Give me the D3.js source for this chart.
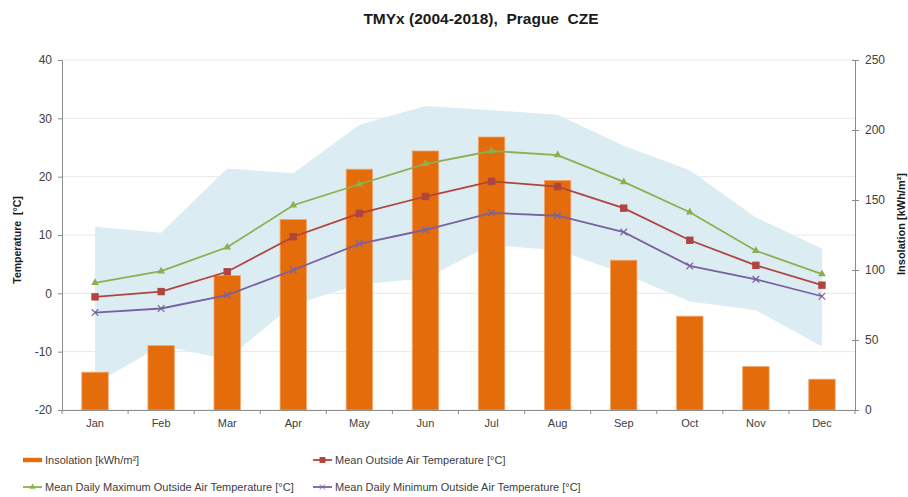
<!DOCTYPE html>
<html>
<head>
<meta charset="utf-8">
<script src="https://cdn.jsdelivr.net/npm/d3@7"></script>
<style>
  body { margin: 0; background: #fff; }
  svg { font-family: Arial, "Liberation Sans", sans-serif; }
</style>
</head>
<body>
<svg id="canvas" width="908" height="497"></svg>
<script>
const months = ['Jan', 'Feb', 'Mar', 'Apr', 'May', 'Jun', 'Jul', 'Aug', 'Sep', 'Oct', 'Nov', 'Dec'];
const insolation = [27, 46, 96, 136, 172, 185, 195, 164, 107, 67, 31, 22];
const meanTemp = [-0.6, 0.3, 3.7, 9.7, 13.7, 16.6, 19.2, 18.3, 14.6, 9.1, 4.8, 1.4];
const maxTemp = [1.8, 3.8, 7.9, 15.1, 18.7, 22.2, 24.4, 23.7, 19.1, 13.9, 7.3, 3.3];
const minTemp = [-3.3, -2.6, -0.3, 4.0, 8.5, 10.9, 13.8, 13.3, 10.5, 4.7, 2.4, -0.5];
const bandHigh = [11.4, 10.4, 21.4, 20.6, 28.9, 32.1, 31.4, 30.6, 25.3, 21.1, 13.0, 7.7];
const bandLow = [-15.5, -9.0, -11.3, -1.9, 1.5, 2.6, 8.3, 7.4, 3.4, -1.4, -2.9, -9.1];
const tempTicks = [-20, -10, 0, 10, 20, 30, 40];
const insTicks = [0, 50, 100, 150, 200, 250];

const legendItems = [
    { name: 'Insolation [kWh/m²]', kind: 'bar', color: '#e46c0a', col: 0, row: 0 },
    { name: 'Mean Outside Air Temperature [°C]', kind: 'square', color: '#b0443f', col: 1, row: 0 },
    { name: 'Mean Daily Maximum Outside Air Temperature [°C]', kind: 'triangle', color: '#8cb050', col: 0, row: 1 },
    { name: 'Mean Daily Minimum Outside Air Temperature [°C]', kind: 'cross', color: '#7960a0', col: 1, row: 1 }
];

let canvas = d3.select('#canvas');

const plotLeft = 62, plotRight = 855, plotTop = 60, plotBottom = 410;

let x = d3.scaleBand().domain(months).range([plotLeft, plotRight]).paddingInner(0.6).paddingOuter(0.3);
let xc = m => x(m) + x.bandwidth() / 2;
let yT = d3.scaleLinear().domain([-20, 40]).range([plotBottom, plotTop]);
let yI = d3.scaleLinear().domain([0, 250]).range([plotBottom, plotTop]);

// title
canvas.append('text')
    .attr('x', 481).attr('y', 24)
    .attr('text-anchor', 'middle')
    .style('font-weight', 'bold').style('font-size', '15.5px').style('white-space', 'pre')
    .attr('fill', '#1a1a1a')
    .text('TMYx (2004-2018),  Prague  CZE');

// gridlines
canvas.append('g').selectAll('line')
    .data(tempTicks)
    .enter()
    .append('line')
    .attr('x1', plotLeft).attr('x2', plotRight)
    .attr('y1', d => yT(d)).attr('y2', d => yT(d))
    .attr('stroke', '#e8e8e8').attr('stroke-width', 1);

// min-max band
let area = d3.area()
    .x((d, i) => xc(months[i]))
    .y0((d, i) => yT(bandLow[i]))
    .y1(d => yT(d));
canvas.append('path')
    .datum(bandHigh)
    .attr('d', area)
    .attr('fill', '#dbedf3');

// bars
canvas.append('g').selectAll('rect')
    .data(insolation)
    .enter()
    .append('rect')
    .attr('x', (d, i) => x(months[i]))
    .attr('y', d => yI(d))
    .attr('width', x.bandwidth())
    .attr('height', d => yI(0) - yI(d))
    .attr('fill', '#e46c0a')
    .attr('stroke', '#f2a66e').attr('stroke-width', 0.8);

// axes
let leftAxis = d3.axisLeft(yT).tickValues(tempTicks).tickSize(4).tickPadding(6).tickFormat(d => String(d));
let gL = canvas.append('g').attr('transform', 'translate(' + plotLeft + ',0)').call(leftAxis);
let rightAxis = d3.axisRight(yI).tickValues(insTicks).tickSize(4).tickPadding(6).tickFormat(d => String(d));
let gR = canvas.append('g').attr('transform', 'translate(' + plotRight + ',0)').call(rightAxis);
gR.selectAll('.tick line').attr('x1', -3);
let bottomAxis = d3.axisBottom(x).tickSize(0).tickPadding(9);
let gB = canvas.append('g').attr('transform', 'translate(0,' + plotBottom + ')').call(bottomAxis);

[gL, gR, gB].forEach(g => {
    g.select('.domain').attr('stroke', '#8c8c8c');
    g.selectAll('.tick line').attr('stroke', '#8c8c8c');
    g.selectAll('.tick text').attr('fill', '#404040').style('font-size', '12px').style('font-family', 'Arial, "Liberation Sans", sans-serif');
});
gB.selectAll('.tick text').style('font-size', '11px');

// tick marks between months
let boundaries = months.map(m => x(m) - x.step() * x.paddingInner() / 2).concat([plotRight]);
gB.selectAll('.sep')
    .data(boundaries)
    .enter()
    .append('line')
    .attr('x1', d => d).attr('x2', d => d)
    .attr('y1', 0).attr('y2', 4)
    .attr('stroke', '#8c8c8c');

// axis titles
canvas.append('text')
    .attr('transform', 'translate(21,240) rotate(-90)')
    .attr('text-anchor', 'middle')
    .style('font-weight', 'bold').style('font-size', '10.5px').style('white-space', 'pre')
    .attr('fill', '#1a1a1a')
    .text('Temperature  [°C]');
canvas.append('text')
    .attr('transform', 'translate(905,224) rotate(-90)')
    .attr('text-anchor', 'middle')
    .style('font-weight', 'bold').style('font-size', '11px')
    .attr('fill', '#1a1a1a')
    .text('Insolation [kWh/m²]');

// lines + markers
const series = [
    { values: maxTemp, color: '#8cb050', kind: 'triangle' },
    { values: meanTemp, color: '#b0443f', kind: 'square' },
    { values: minTemp, color: '#7960a0', kind: 'cross' }
];

let line = d3.line()
    .x((d, i) => xc(months[i]))
    .y(d => yT(d));

const drawMarker = (g, kind, color) => {
    if (kind === 'triangle') {
        g.append('path').attr('d', d3.symbol(d3.symbolTriangle, 26)()).attr('fill', color);
    } else if (kind === 'square') {
        g.append('rect').attr('x', -3.7).attr('y', -3.7).attr('width', 7.4).attr('height', 7.4).attr('fill', color);
    } else if (kind === 'cross') {
        g.append('path').attr('d', 'M-3.3,-3.3L3.3,3.3M-3.3,3.3L3.3,-3.3').attr('stroke', color).attr('stroke-width', 1.2).attr('fill', 'none');
    }
};

series.forEach(s => {
    canvas.append('path')
        .datum(s.values)
        .attr('d', line)
        .attr('fill', 'none')
        .attr('stroke', s.color)
        .attr('stroke-width', 1.8);

    canvas.append('g').selectAll('g')
        .data(s.values)
        .enter()
        .append('g')
        .attr('transform', (d, i) => 'translate(' + xc(months[i]) + ',' + yT(d) + ')')
        .each(function () { drawMarker(d3.select(this), s.kind, s.color); });
});

// legend
let legend = canvas.append('g');
legendItems.forEach(item => {
    let lx = item.col === 0 ? 23 : 313;
    let ly = item.row === 0 ? 460 : 487;
    let g = legend.append('g').attr('transform', 'translate(' + lx + ',' + ly + ')');
    if (item.kind === 'bar') {
        g.append('rect').attr('x', 0).attr('y', -2.2).attr('width', 19).attr('height', 4.4).attr('fill', item.color);
    } else {
        g.append('line').attr('x1', 0).attr('x2', 19).attr('y1', 0).attr('y2', 0)
            .attr('stroke', item.color).attr('stroke-width', 1.8);
        let m = g.append('g').attr('transform', 'translate(9.5,0) scale(0.8)');
        drawMarker(m, item.kind, item.color);
    }
    g.append('text')
        .attr('x', 22).attr('y', 4)
        .style('font-size', '11px')
        .attr('fill', '#404040')
        .text(item.name);
});
</script>
</body>
</html>
